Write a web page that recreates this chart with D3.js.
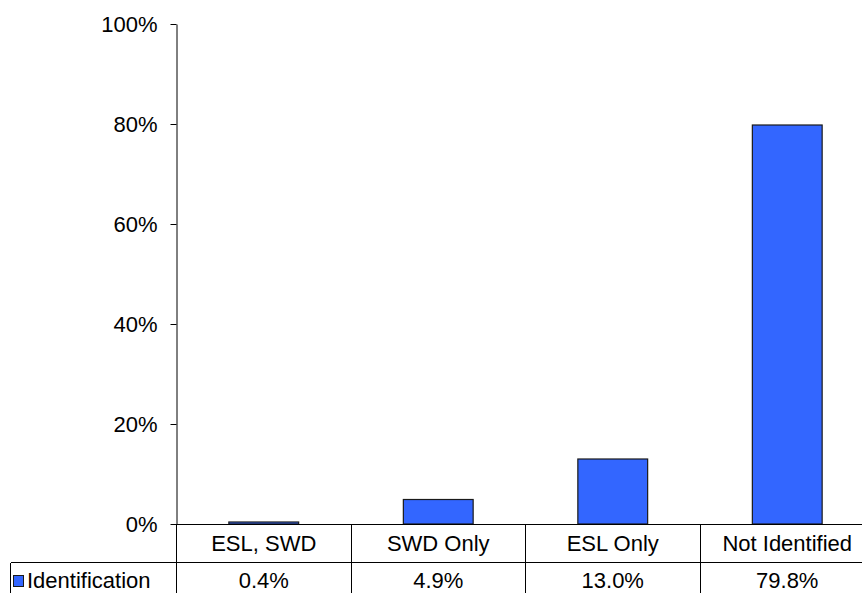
<!DOCTYPE html>
<html>
<head>
<meta charset="utf-8">
<script src="https://cdn.jsdelivr.net/npm/d3@7"></script>
<style>
  html, body { margin: 0; padding: 0; background: #fff; }
  svg { display: block; }
  text { font-family: "Liberation Sans", Arial, sans-serif; fill: #000; }
</style>
</head>
<body>
<svg id="chart" width="862" height="593"></svg>
<script>
const categories = ["ESL, SWD", "SWD Only", "ESL Only", "Not Identified"];
const seriesName = "Identification";
const values = [0.004, 0.049, 0.130, 0.798];
const yTicks = [0, 0.2, 0.4, 0.6, 0.8, 1.0];

const svg = d3.select("#chart");
const W = 862, H = 593;
const plotLeft = 176.5, plotRight = 874.5, plotTop = 24, plotBottom = 524;
const row1 = 524.5, row2 = 562.5;
const fontSize = 22;
const barColor = "#3366FF";

const x = d3.scaleBand().domain(categories).range([plotLeft, plotRight]).padding(0);
const y = d3.scaleLinear().domain([0, 1]).range([plotBottom, plotTop]);
const bw = x.bandwidth() * 0.4;

// Y axis
const yAxis = d3.axisLeft(y).tickValues(yTicks).tickFormat(d3.format(".0%"))
  .tickSize(6).tickSizeOuter(0).tickPadding(13);
const gy = svg.append("g").attr("transform", `translate(${plotLeft},0)`).call(yAxis);
gy.select(".domain").attr("stroke", "#000").attr("stroke-width", 1);
gy.selectAll(".tick line").attr("stroke", "#000");
gy.selectAll(".tick text").style("font-size", fontSize + "px")
  .style("font-family", "'Liberation Sans', Arial, sans-serif").attr("fill", "#000");

// Bars
svg.append("g").selectAll("rect").data(values).join("rect")
  .attr("x", (d, i) => x(categories[i]) + (x.bandwidth() - bw) / 2)
  .attr("y", d => y(d))
  .attr("width", bw)
  .attr("height", d => y(0) - y(d))
  .attr("fill", barColor)
  .attr("stroke", "#1a1a1a")
  .attr("stroke-width", 1.2);

// Data table
const tbl = svg.append("g").attr("stroke", "#000").attr("stroke-width", 1).attr("shape-rendering", "crispEdges");
tbl.append("line").attr("x1", plotLeft - 6).attr("x2", W).attr("y1", row1).attr("y2", row1);
tbl.append("line").attr("x1", 10.5).attr("x2", W).attr("y1", row2).attr("y2", row2);
tbl.append("line").attr("x1", 10.5).attr("x2", 10.5).attr("y1", row2).attr("y2", H);
const bounds = categories.map(c => x(c)).concat([x(categories[categories.length - 1]) + x.bandwidth()]);
tbl.selectAll("line.v").data(bounds).join("line").attr("class", "v")
  .attr("x1", d => d).attr("x2", d => d).attr("y1", row1).attr("y2", H);

// category labels
svg.append("g").selectAll("text").data(categories).join("text")
  .attr("x", d => x(d) + x.bandwidth() / 2)
  .attr("y", 551)
  .attr("text-anchor", "middle")
  .style("font-size", fontSize + "px")
  .text(d => d);

// value labels
svg.append("g").selectAll("text").data(values).join("text")
  .attr("x", (d, i) => x(categories[i]) + x.bandwidth() / 2)
  .attr("y", 588)
  .attr("text-anchor", "middle")
  .style("font-size", fontSize + "px")
  .text(d => d3.format(".1%")(d));

// legend key
svg.append("rect").attr("x", 13.5).attr("y", 575.5).attr("width", 10).attr("height", 11)
  .attr("fill", barColor).attr("stroke", "#1a1a1a").attr("stroke-width", 1);
svg.append("text").attr("x", 27).attr("y", 588)
  .style("font-size", fontSize + "px").text(seriesName);
</script>
</body>
</html>
